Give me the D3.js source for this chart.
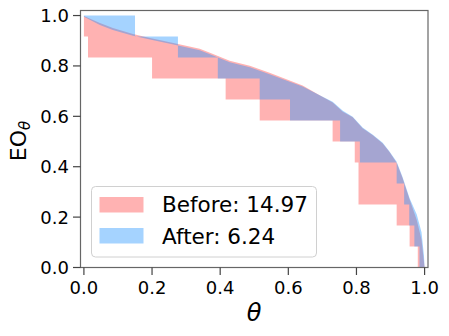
<!DOCTYPE html>
<html>
<head>
<meta charset="utf-8">
<script src="https://cdn.jsdelivr.net/npm/d3@7"></script>
<style>
  body { margin: 0; background: #fff; }
  text { font-family: "DejaVu Sans", sans-serif; fill: #000; }
</style>
</head>
<body>
<div class="chart"></div>
<script>
// upper curves (theta, EO)
const beforeCurveX = [0, 0.047, 0.085, 0.144, 0.194, 0.273, 0.34, 0.37, 0.428, 0.487, 0.545, 0.604, 0.642, 0.692, 0.73, 0.76, 0.789, 0.818, 0.848, 0.877, 0.897, 0.918, 0.935, 0.956, 0.977, 0.991, 1.0];
const beforeCurveY = [0.998, 0.97, 0.951, 0.927, 0.911, 0.888, 0.868, 0.852, 0.821, 0.801, 0.773, 0.742, 0.722, 0.684, 0.655, 0.618, 0.596, 0.553, 0.525, 0.492, 0.458, 0.416, 0.356, 0.27, 0.189, 0.11, 0.0];
const afterCurveX = [0, 0.047, 0.085, 0.144, 0.194, 0.273, 0.34, 0.37, 0.428, 0.487, 0.545, 0.604, 0.642, 0.692, 0.73, 0.76, 0.789, 0.818, 0.848, 0.877, 0.897, 0.918, 0.935, 0.956, 0.977, 0.991, 0.998, 1.0];
const afterCurveY = [0.995, 0.962, 0.943, 0.92, 0.905, 0.882, 0.862, 0.846, 0.815, 0.795, 0.767, 0.737, 0.718, 0.684, 0.658, 0.622, 0.598, 0.556, 0.527, 0.495, 0.46, 0.42, 0.36, 0.275, 0.21, 0.14, 0.05, 0.0];

// staircases: edges along theta and the level held between them
const beforeStepEdges = [0, 0.012, 0.2, 0.416, 0.516, 0.73, 0.795, 0.806, 0.918, 0.956, 0.98, 1.0];
const beforeStepLevels = [11/12, 10/12, 9/12, 8/12, 7/12, 6/12, 5/12, 3/12, 2/12, 1/12, 0];
const afterStepEdges = [0, 0.15, 0.276, 0.393, 0.516, 0.605, 0.752, 0.81, 0.918, 0.94, 0.955, 0.97, 0.985, 1.0];
const afterStepLevels = [12/12, 11/12, 10/12, 9/12, 8/12, 7/12, 6/12, 5/12, 4/12, 3/12, 2/12, 1/12, 0];

const legendLabels = ['Before: 14.97', 'After: 6.24'];
const tickValues = [0, 0.2, 0.4, 0.6, 0.8, 1.0];

const width = 449, height = 336;
const svg = d3.select('.chart').append('svg')
  .attr('width', width)
  .attr('height', height);

const x = d3.scaleLinear().domain([-0.01, 1.01]).range([80.5, 428]);
const y = d3.scaleLinear().domain([0, 1.02]).range([267.5, 10.5]);

function stairPoints(edges, levels) {
  const pts = [];
  levels.forEach((lv, i) => {
    pts.push([edges[i], lv]);
    pts.push([edges[i + 1], lv]);
  });
  return pts;
}

function regionPoints(cx, cy, edges, levels) {
  const top = cx.map((v, i) => [v, cy[i]]);
  return top.concat(stairPoints(edges, levels).reverse());
}

const line = d3.line().x(d => x(d[0])).y(d => y(d[1]));

const regions = [
  {pts: regionPoints(beforeCurveX, beforeCurveY, beforeStepEdges, beforeStepLevels), color: 'red', op: 0.3},
  {pts: regionPoints(afterCurveX, afterCurveY, afterStepEdges, afterStepLevels), color: 'dodgerblue', op: 0.4}
];

svg.selectAll('path.region')
  .data(regions)
  .enter()
  .append('path')
  .attr('class', 'region')
  .attr('d', d => line(d.pts) + 'Z')
  .attr('fill', d => d.color)
  .attr('fill-opacity', d => d.op)
  .attr('stroke', 'none');

// spines
svg.append('rect')
  .attr('x', 80.5).attr('y', 10.5)
  .attr('width', 347.5).attr('height', 257)
  .attr('fill', 'none')
  .attr('stroke', '#666')
  .attr('stroke-width', 1.2);

// ticks
const tickColor = '#444';
svg.selectAll('line.xt').data(tickValues).enter().append('line')
  .attr('x1', d => x(d)).attr('x2', d => x(d))
  .attr('y1', 267.5).attr('y2', 275)
  .attr('stroke', tickColor).attr('stroke-width', 1.2);
svg.selectAll('text.xt').data(tickValues).enter().append('text')
  .attr('x', d => x(d)).attr('y', 293.5)
  .attr('text-anchor', 'middle')
  .style('font-size', '18px')
  .text(d => d.toFixed(1));

svg.selectAll('line.yt').data(tickValues).enter().append('line')
  .attr('x1', 73).attr('x2', 80.5)
  .attr('y1', d => y(d)).attr('y2', d => y(d))
  .attr('stroke', tickColor).attr('stroke-width', 1.2);
svg.selectAll('text.yt').data(tickValues).enter().append('text')
  .attr('x', 69).attr('y', d => y(d) + 6.5)
  .attr('text-anchor', 'end')
  .style('font-size', '18px')
  .text(d => d.toFixed(1));

// axis labels
svg.append('text')
  .attr('x', 254).attr('y', 321)
  .attr('text-anchor', 'middle')
  .style('font-size', '24px')
  .style('font-style', 'italic')
  .text('θ');

const yl = svg.append('text')
  .attr('transform', 'translate(25.5,141) rotate(-90)')
  .attr('text-anchor', 'middle')
  .style('font-size', '22px');
yl.append('tspan').text('EO');
yl.append('tspan')
  .attr('dy', 4)
  .style('font-size', '15px')
  .style('font-style', 'italic')
  .text('θ');

// legend
const lg = svg.append('g');
lg.append('rect')
  .attr('x', 91.5).attr('y', 186.5)
  .attr('width', 225).attr('height', 70.5)
  .attr('rx', 4)
  .attr('fill', '#fff').attr('fill-opacity', 0.8)
  .attr('stroke', '#d0d0d0');
regions.forEach((r, i) => {
  lg.append('rect')
    .attr('x', 99.5).attr('y', 197 + i * 31)
    .attr('width', 44).attr('height', 15.5)
    .attr('fill', r.color).attr('fill-opacity', r.op);
  lg.append('text')
    .attr('x', 162).attr('y', 212 + i * 31.5)
    .style('font-size', '21.5px')
    .text(legendLabels[i]);
});
</script>
</body>
</html>
